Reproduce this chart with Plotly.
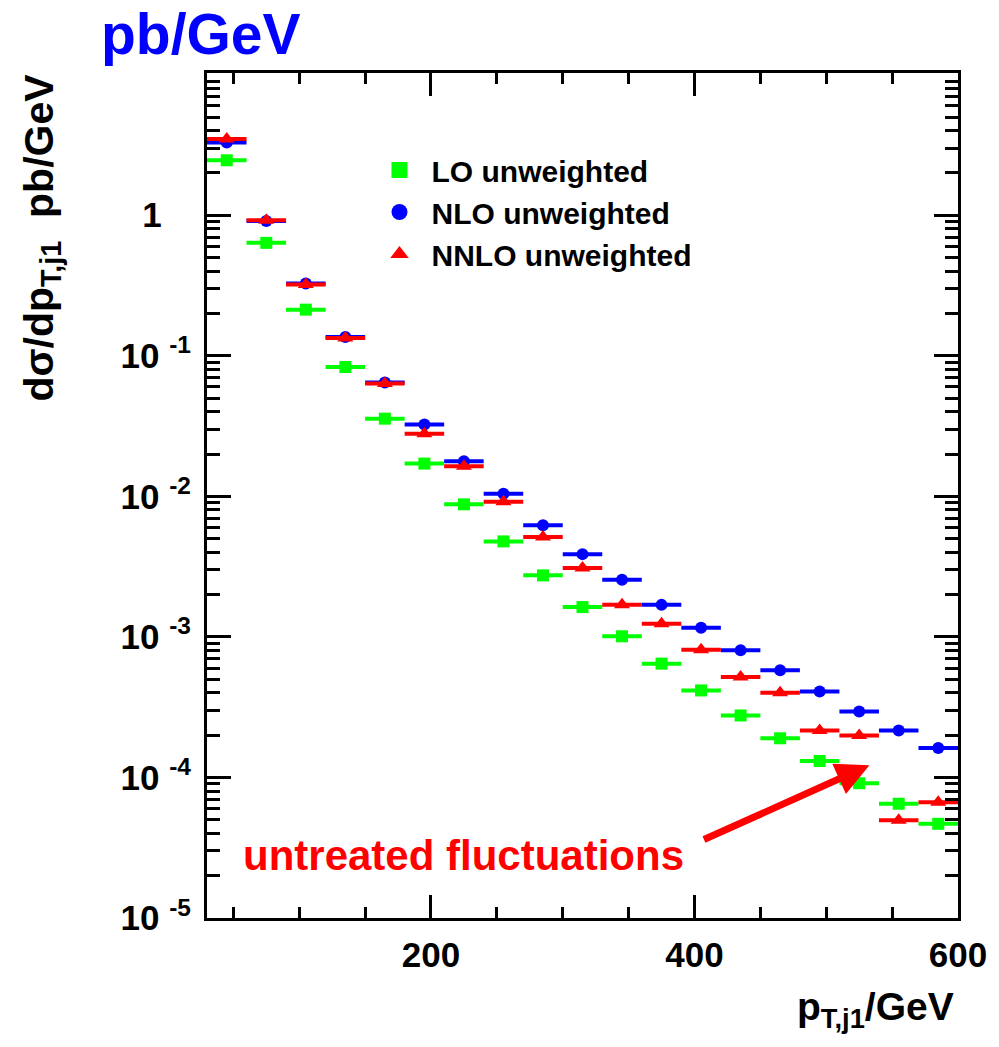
import plotly.graph_objects as go

# ---- data ----
bin_lo = [30, 60, 90, 120, 150, 180, 210, 240, 270, 300, 330, 360, 390, 420, 450, 480, 510, 540, 570]
bin_width = 30

lo_vals = [2.46, 0.636, 0.213, 0.0832, 0.0357, 0.0171, 0.00877, 0.00478, 0.00274, 0.00163,
           0.00101, 0.000645, 0.000416, 0.000276, 0.000190, 0.000131, 0.0000910, 0.0000650, 0.0000468]
nlo_vals = [3.29, 0.91, 0.327, 0.136, 0.0645, 0.0324, 0.01775, 0.01045, 0.00622, 0.00388,
            0.00255, 0.00169, 0.00116, 0.000802, 0.000578, 0.000409, 0.000295, 0.000216, 0.000162]
nnlo_vals = [3.49, 0.92, 0.321, 0.134, 0.0634, 0.0279, 0.01636, 0.00917, 0.00513, 0.00309,
             0.00169, 0.00124, 0.000810, 0.000518, 0.000401, 0.000216, 0.000199, 0.0000495, 0.0000667]

series_names = ["LO unweighted", "NLO unweighted", "NNLO unweighted"]
y_exponents = [-5, -4, -3, -2, -1, 0]
x_tick_vals = [200, 400, 600]

# ---- styling ----
FONT = "Liberation Sans"
colors = ["#00ff00", "#0000ff", "#ff0000"]
symbols = ["square", "circle", "triangle-up"]
msizes = [12, 12, 14]

centers = [b + bin_width / 2 for b in bin_lo]
half = [bin_width / 2] * len(bin_lo)

fig = go.Figure()
for name, vals, col, sym, ms in zip(series_names, [lo_vals, nlo_vals, nnlo_vals], colors, symbols, msizes):
    fig.add_trace(go.Scatter(
        x=centers, y=vals, mode="markers", showlegend=False,
        marker=dict(color=col, symbol=sym, size=ms, line=dict(width=0)),
        error_x=dict(type="data", array=half, symmetric=True, color=col, thickness=4, width=0),
        cliponaxis=True,
    ))
# legend entries
for i, (name, col, sym) in enumerate(zip(series_names, colors, symbols)):
    fig.add_trace(go.Scatter(
        x=[None], y=[None], mode="markers", name=name, legendgroup=f"g{i}",
        marker=dict(color=col, symbol=sym, size=16, line=dict(width=0)),
    ))

ticktext = []
for e in y_exponents:
    if e == 0:
        ticktext.append("1&nbsp;&nbsp;&nbsp;")
    else:
        ticktext.append(f"10&nbsp;<sup>{e}</sup>")
tickvals = [10.0 ** e for e in y_exponents]
minor_vals = [m * 10.0 ** e for e in y_exponents for m in range(2, 10)]

fig.update_layout(
    width=999, height=1047,
    margin=dict(l=207, r=34, t=73, b=129),
    paper_bgcolor="white", plot_bgcolor="white",
    font=dict(family=FONT, color="black"),
    showlegend=True,
    legend=dict(
        x=0.2137, y=0.916, xanchor="left", yanchor="top",
        bgcolor="rgba(0,0,0,0)", borderwidth=0,
        font=dict(family=FONT, size=30, weight="bold", color="black"),
        itemwidth=54, tracegroupgap=0,
    ),
    xaxis=dict(
        range=[30, 600], showgrid=False, zeroline=False,
        showline=True, linewidth=3, linecolor="black", mirror="allticks",
        ticks="inside", ticklen=23, tickwidth=3, tickcolor="black",
        tickmode="array", tickvals=x_tick_vals, ticktext=[str(v) for v in x_tick_vals],
        tickfont=dict(family=FONT, size=35, weight="bold", color="black"),
        ticklabelstandoff=4,
        minor=dict(ticks="inside", ticklen=11, tickwidth=3, tickcolor="black", dtick=50, tick0=0, showgrid=False),
    ),
    yaxis=dict(
        type="log", range=[-5, 1.012], showgrid=False, zeroline=False,
        showline=True, linewidth=3, linecolor="black", mirror="allticks",
        ticks="inside", ticklen=24, tickwidth=3, tickcolor="black",
        tickmode="array", tickvals=tickvals, ticktext=ticktext,
        tickfont=dict(family=FONT, size=35, weight="bold", color="black"),
        ticklabelstandoff=6,
        minor=dict(ticks="inside", ticklen=13, tickwidth=3, tickcolor="black",
                   tickmode="array", tickvals=minor_vals, showgrid=False),
    ),
)

annotations = [
    dict(text="pb/GeV", xref="paper", yref="paper", x=-0.0079, y=1.0458,
         xanchor="center", yanchor="middle", showarrow=False, borderpad=0,
         font=dict(family=FONT, size=57, weight="bold", color="#0000ff")),
    dict(text="dσ/dp<sub>T,j1</sub>&nbsp;&nbsp;pb/GeV", xref="paper", yref="paper",
         x=-0.2203, y=1.0, xanchor="center", yanchor="top", textangle=-90,
         showarrow=False, borderpad=0,
         font=dict(family=FONT, size=41, weight="bold", color="black")),
    dict(text="p<sub>T,j1</sub>/GeV", xref="paper", yref="paper",
         x=0.996, y=-0.1083, xanchor="right", yanchor="middle", showarrow=False, borderpad=0,
         font=dict(family=FONT, size=39, weight="bold", color="black")),
    dict(text="untreated fluctuations", xref="paper", yref="paper",
         x=0.3417, y=0.074, xanchor="center", yanchor="middle", showarrow=False, borderpad=0,
         font=dict(family=FONT, size=42, weight="bold", color="#ff0000")),
    dict(text="", x=532.8, y=-3.913, xref="x", yref="y", showarrow=True,
         ax=-167, ay=75, arrowhead=2, arrowsize=0.95, arrowwidth=7, arrowcolor="#ff0000",
         standoff=0, startstandoff=0),
]
fig.update_layout(annotations=annotations)

fig.write_html("out.html")
